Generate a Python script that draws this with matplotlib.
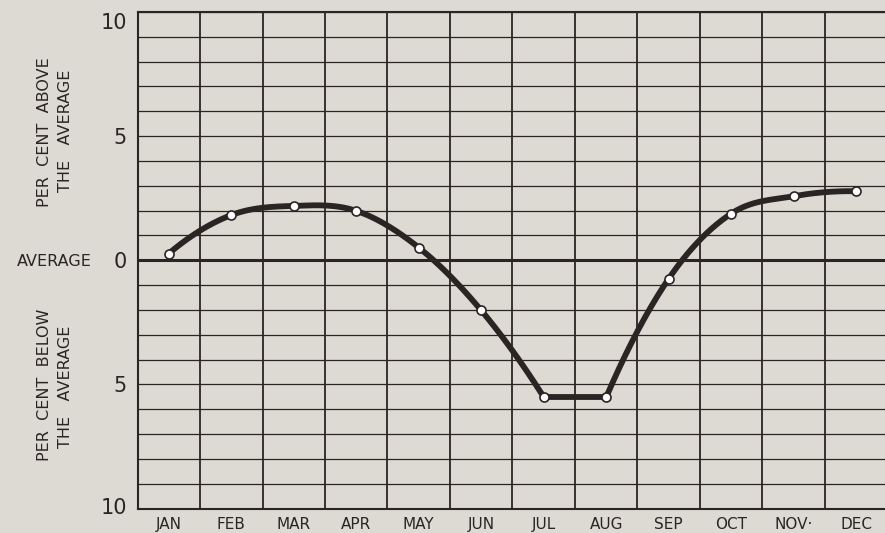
import numpy as np
import matplotlib
matplotlib.use("Agg")
import matplotlib.pyplot as plt
from matplotlib.transforms import ScaledTranslation

months = ["JAN", "FEB", "MAR", "APR", "MAY", "JUN", "JUL", "AUG", "SEP", "OCT", "NOV·", "DEC"]
values = [0.27, 1.82, 2.19, 1.99, 0.51, -2.02, -5.51, -5.51, -0.74, 1.88, 2.58, 2.78]
ytick_vals = [-10, -5, 0, 5, 10]
ytick_labels = ["10", "5", "0", "5", "10"]

BG = "#dddad4"
INK = "#2a2523"

x = np.arange(len(values)) + 0.5
y = np.array(values, dtype=float)


def smooth(xs, ys, n=40):
    xs = np.asarray(xs, float)
    ys = np.asarray(ys, float)
    m = len(xs)
    t = np.zeros(m)
    for i in range(1, m - 1):
        t[i] = (ys[i + 1] - ys[i - 1]) / (xs[i + 1] - xs[i - 1])
    s0 = (ys[1] - ys[0]) / (xs[1] - xs[0])
    s1 = (ys[-1] - ys[-2]) / (xs[-1] - xs[-2])
    t[0] = 2 * s0 - t[1]
    t[-1] = 2 * s1 - t[-2]
    X, Y = [], []
    for i in range(m - 1):
        h = xs[i + 1] - xs[i]
        s = np.linspace(0, 1, n)
        h00 = 2 * s**3 - 3 * s**2 + 1
        h10 = s**3 - 2 * s**2 + s
        h01 = -2 * s**3 + 3 * s**2
        h11 = s**3 - s**2
        X.append(xs[i] + s * h)
        Y.append(h00 * ys[i] + h10 * h * t[i] + h01 * ys[i + 1] + h11 * h * t[i + 1])
    return np.concatenate(X), np.concatenate(Y)


fig = plt.figure(figsize=(8.85, 5.33), dpi=100, facecolor=BG)
ax = fig.add_axes([137.5 / 885, (533 - 508.5) / 533, 750 / 885, 496.5 / 533])
ax.set_facecolor(BG)
ax.set_xlim(0, 12)
ax.set_ylim(-10, 10)

# grid
for v in range(-10, 11):
    lw = 2.2 if v == 0 else 0.9
    ax.axhline(v, color=INK, lw=lw, zorder=1)
for v in range(0, 13):
    ax.axvline(v, color=INK, lw=1.3, zorder=1)

for s in ax.spines.values():
    s.set_color(INK)
    s.set_linewidth(1.5)

# curve: smooth pieces with a straight JUL-AUG segment
x1, y1 = smooth(x[:7], y[:7])
x3, y3 = smooth(x[7:], y[7:])
ax.plot(x1, y1, color=INK, lw=4.2, solid_capstyle="round", zorder=3)
ax.plot(x[6:8], y[6:8], color=INK, lw=4.2, zorder=3)
ax.plot(x3, y3, color=INK, lw=4.2, solid_capstyle="round", zorder=3)
ax.plot(x, y, "o", ms=6.5, mfc="white", mec=INK, mew=1.2, zorder=4, ls="none")

ax.set_yticks(ytick_vals)
ax.set_yticklabels(ytick_labels, fontsize=15, color=INK)
ax.set_xticks(x)
ax.set_xticklabels(months, fontsize=11, color=INK)
ax.tick_params(axis="x", length=0, pad=6)
ax.tick_params(axis="y", length=0, pad=7.5)

ylabels = ax.get_yticklabels()
ylabels[-1].set_transform(ylabels[-1].get_transform() + ScaledTranslation(0, -9 / 100, fig.dpi_scale_trans))
ylabels[0].set_transform(ylabels[0].get_transform() + ScaledTranslation(0, 3 / 100, fig.dpi_scale_trans))

fig.text(92 / 885, 1 - 261 / 533, "AVERAGE", ha="right", va="center", fontsize=11.5, color=INK)
fig.text(45 / 885, 1 - 132 / 533, "PER  CENT  ABOVE", rotation=90, ha="center", va="center", fontsize=11.5, color=INK)
fig.text(66 / 885, 1 - 131 / 533, "THE   AVERAGE", rotation=90, ha="center", va="center", fontsize=11.5, color=INK)
fig.text(45 / 885, 1 - 385 / 533, "PER  CENT  BELOW", rotation=90, ha="center", va="center", fontsize=11.5, color=INK)
fig.text(66 / 885, 1 - 387 / 533, "THE   AVERAGE", rotation=90, ha="center", va="center", fontsize=11.5, color=INK)

fig.savefig("out.png", dpi=100, facecolor=BG)
